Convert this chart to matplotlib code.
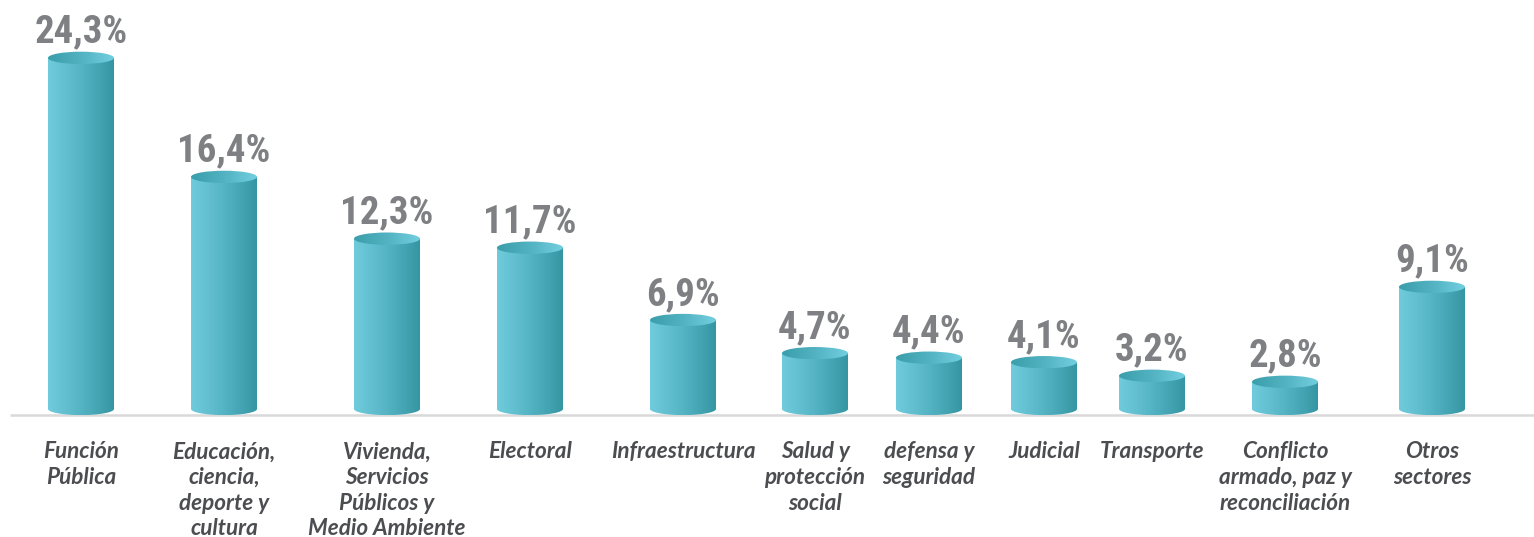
import numpy as np
import matplotlib
matplotlib.use("Agg")
import matplotlib.pyplot as plt
from matplotlib.path import Path
from matplotlib.patches import PathPatch, Ellipse
from matplotlib.colors import LinearSegmentedColormap

# Participación por sector (%)
sectores = [
    "Función\nPública",
    "Educación,\nciencia,\ndeporte y\ncultura",
    "Vivienda,\nServicios\nPúblicos y\nMedio Ambiente",
    "Electoral",
    "Infraestructura",
    "Salud y\nprotección\nsocial",
    "defensa y\nseguridad",
    "Judicial",
    "Transporte",
    "Conflicto\narmado, paz y\nreconciliación",
    "Otros\nsectores",
]
porcentajes = [24.3, 16.4, 12.3, 11.7, 6.9, 4.7, 4.4, 4.1, 3.2, 2.8, 9.1]

# posición horizontal de cada columna (en píxeles del lienzo)
pos_x = [81, 224, 387, 530, 683, 815, 929, 1044, 1152, 1285, 1432]

ANCHO = 66        # ancho del cilindro
ALTO_ELIPSE = 0.82  # alto de la elipse de la tapa (unidades de %)
PISO = 1.0        # centro de la elipse inferior
LINEA = 0.6       # línea base

cmap_cuerpo = LinearSegmentedColormap.from_list("cuerpo", ["#70ccdd", "#55b4c4", "#3596a3"])
cmap_tapa = LinearSegmentedColormap.from_list("tapa", ["#3b9eab", "#52b2c1", "#72cfdf"])
gradiente = np.linspace(0, 1, 256).reshape(1, -1)


def cilindro(ax, xc, tope):
    x0, x1 = xc - ANCHO / 2, xc + ANCHO / 2
    t = np.linspace(0, np.pi, 60)
    bx = xc + (ANCHO / 2) * np.cos(t)
    by = PISO - (ALTO_ELIPSE / 2) * np.sin(t)
    verts = [(x0, tope), (x1, tope)] + list(zip(bx, by)) + [(x0, tope)]
    cuerpo = PathPatch(Path(verts), facecolor="none", edgecolor="none")
    ax.add_patch(cuerpo)
    im = ax.imshow(gradiente, cmap=cmap_cuerpo, aspect="auto", interpolation="bilinear",
                   extent=(x0, x1, PISO - ALTO_ELIPSE / 2, tope), zorder=2)
    im.set_clip_path(cuerpo)

    tapa = Ellipse((xc, tope), ANCHO, ALTO_ELIPSE, facecolor="none", edgecolor="none")
    ax.add_patch(tapa)
    im2 = ax.imshow(gradiente, cmap=cmap_tapa, aspect="auto", interpolation="bilinear",
                    extent=(x0, x1, tope - ALTO_ELIPSE / 2, tope + ALTO_ELIPSE / 2), zorder=3)
    im2.set_clip_path(tapa)


fig = plt.figure(figsize=(15.34, 5.37), dpi=100, facecolor="white")
ax = fig.add_axes([0, 0, 1, 1])
ax.axis("off")

ax.plot([10, 1534], [LINEA, LINEA], color="#d9d9d9", lw=1.8, zorder=1, solid_capstyle="butt")

for x, v, s in zip(pos_x, porcentajes, sectores):
    cilindro(ax, x, v)
    etiqueta = f"{v:.1f}".replace(".", ",") + "%"
    ax.annotate(etiqueta, (x, v + ALTO_ELIPSE / 2), xytext=(0, 6.5), textcoords="offset points",
                ha="center", va="baseline", fontsize=28, fontweight="bold",
                family=["Roboto Condensed", "DejaVu Sans"], fontstretch="condensed",
                color="#7f8084", zorder=4)
    ax.annotate(s, (x, LINEA), xytext=(0, -19), textcoords="offset points",
                ha="center", va="top", fontsize=16.2, fontweight="bold", fontstyle="italic",
                family=["Lato", "DejaVu Sans"], color="#4c4d50",
                linespacing=1.27, zorder=4)

ax.set_xlim(0, 1534)
ax.set_ylim(-7.5, 28.14)

fig.savefig("out.png", dpi=100, facecolor="white")
